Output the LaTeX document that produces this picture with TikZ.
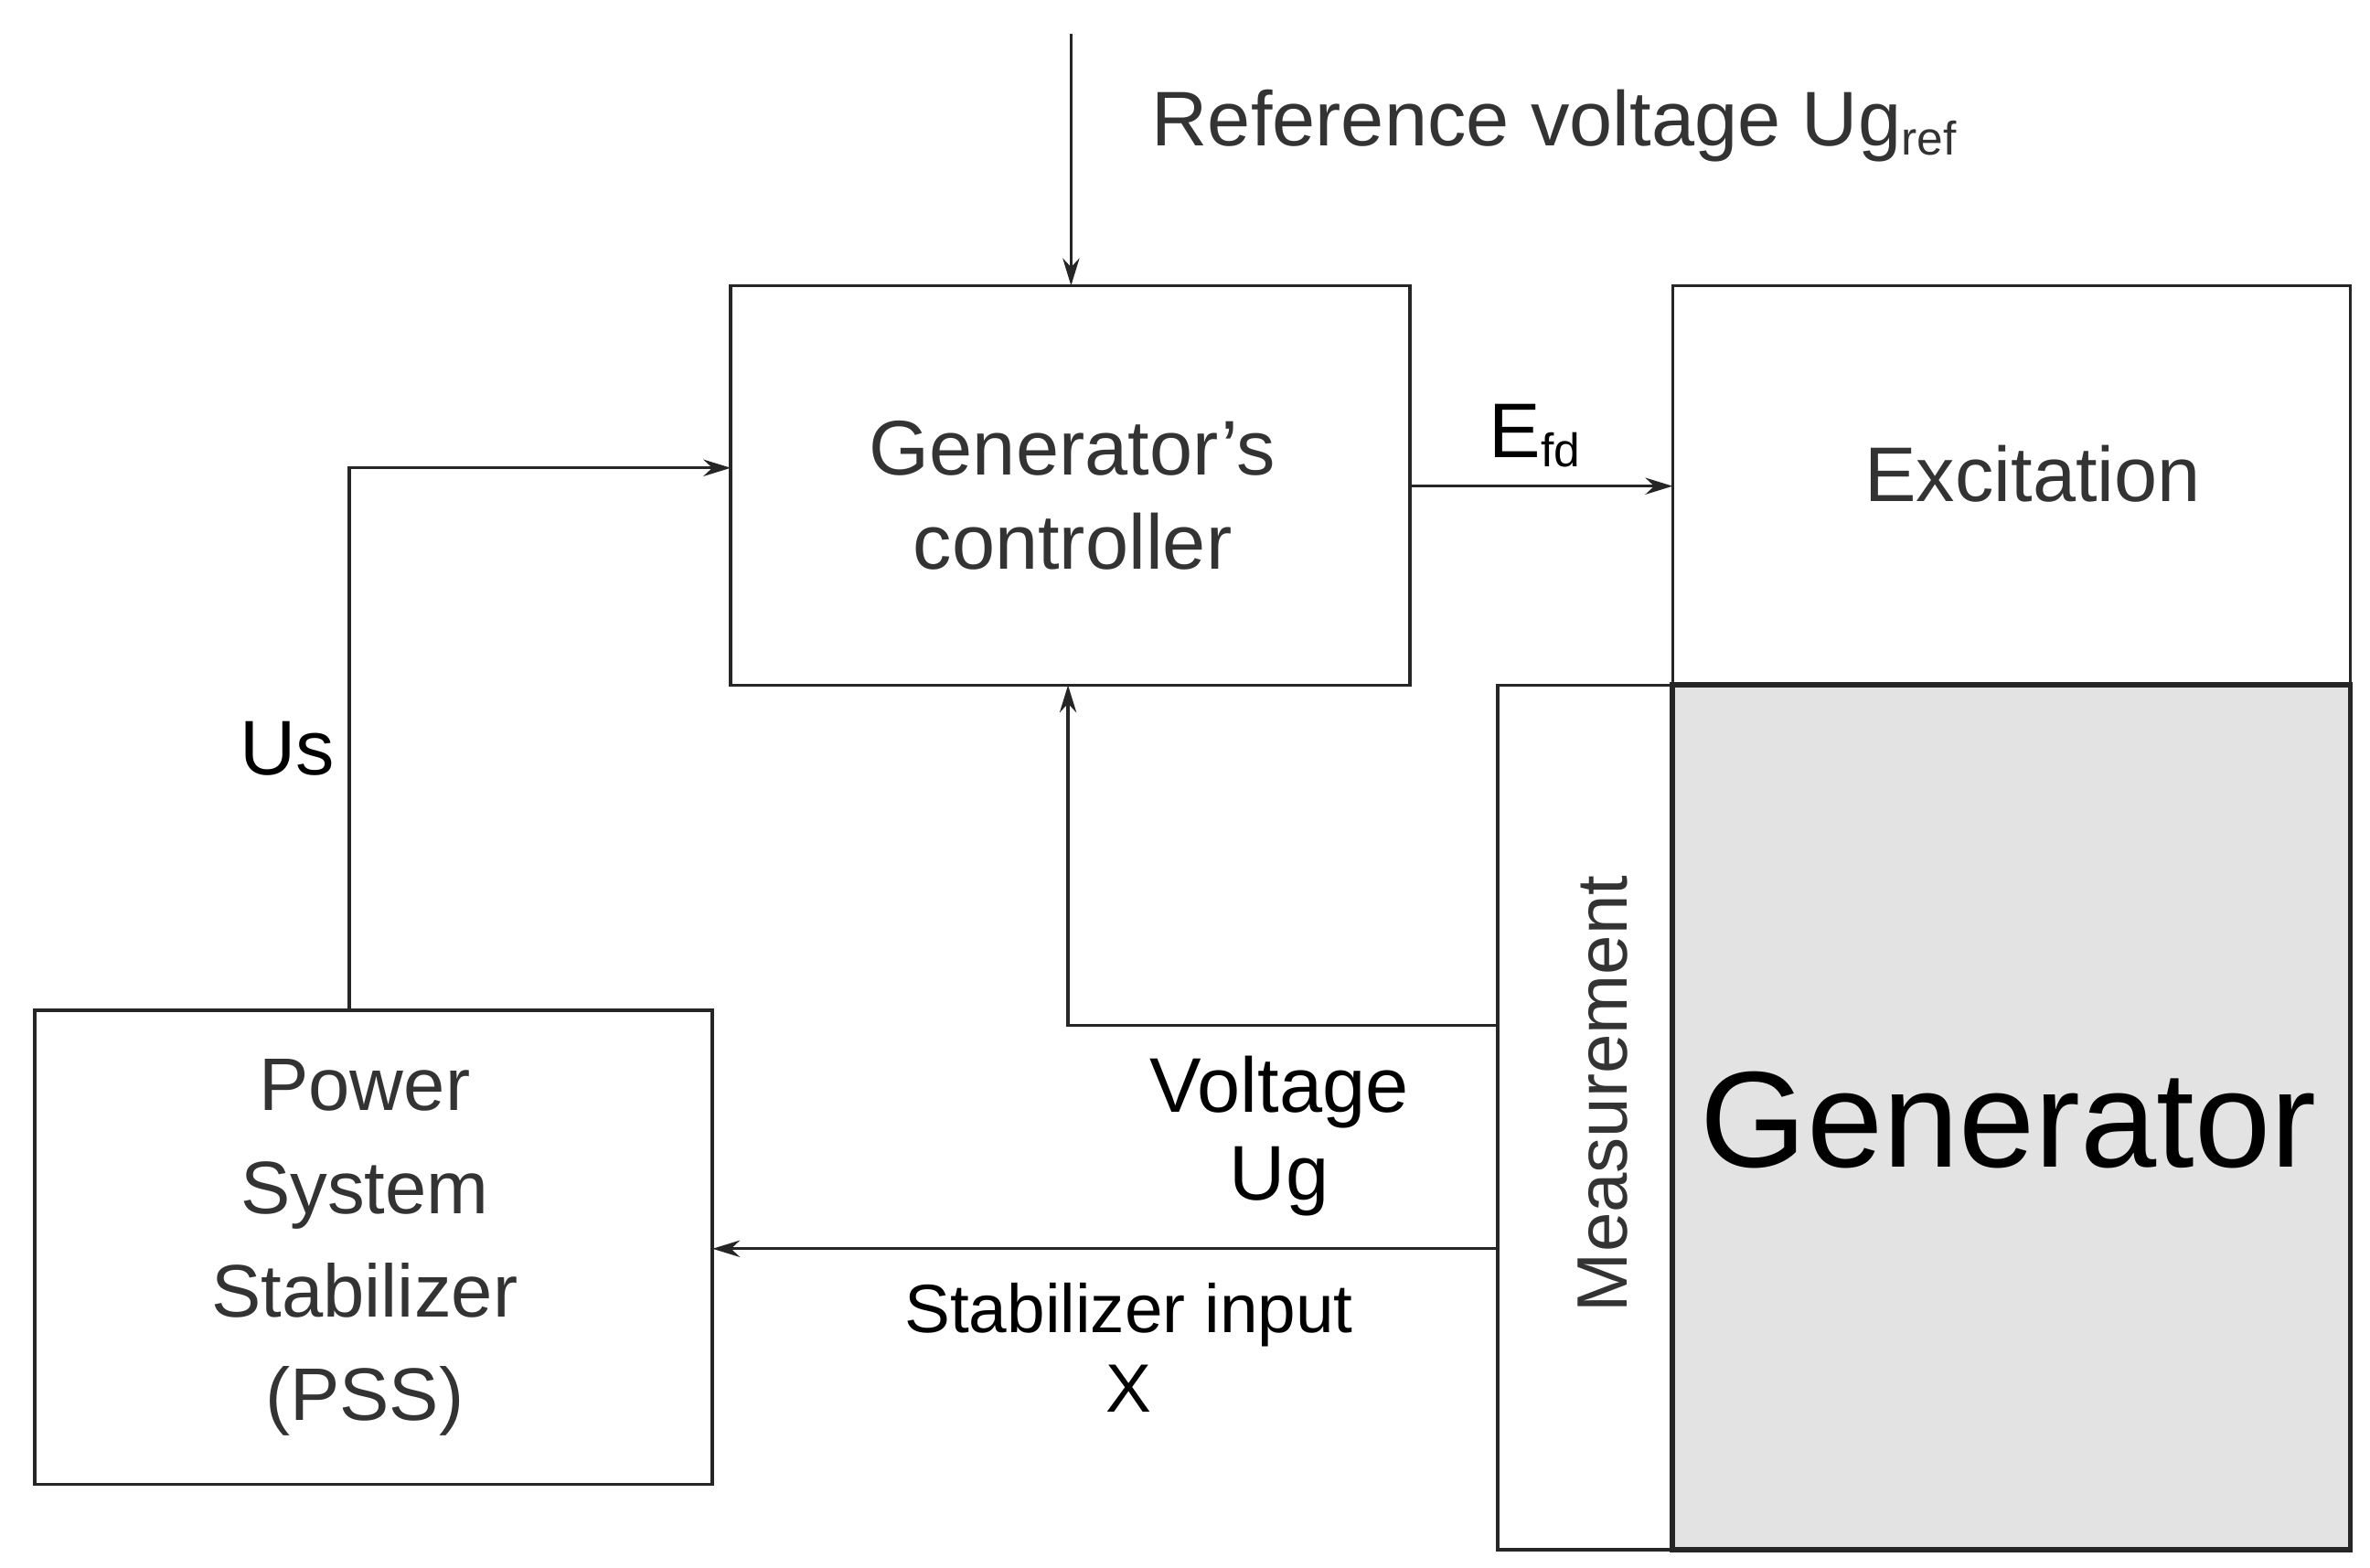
\documentclass[tikz,border=0pt]{standalone}
\usepackage{fontspec}
\setmainfont{Liberation Sans}
\usetikzlibrary{arrows.meta}
\begin{document}
\begin{tikzpicture}[x=1pt,y=-1pt,
  blk/.style={draw=black!85,line width=2.2pt},
  arr/.style={draw=black!85,line width=2pt,-{Stealth[length=18pt,width=11pt]}},
  ln/.style={draw=black!85,line width=2pt},
  txt/.style={font=\fontsize{51}{58}\selectfont,text=black!80,align=center,inner sep=0pt}]
\useasboundingbox (0,0) rectangle (1560,1032);
\node[blk,minimum width=447pt,minimum height=263pt] (ctrl) at (704.5,319.5) {};
\node[txt] (ctrlt) at (706,326) {Generator’s\\[4pt]controller};
\node[blk,minimum width=446pt,minimum height=263pt] (exc) at (1324,319.5) {};
\node[txt] (exct) at (1338,312) {Excitation};
\node[blk,fill=black!11,line width=3.5pt,minimum width=446pt,minimum height=569pt] (gen) at (1324,735.5) {};
\node[txt,font=\fontsize{90}{96}\selectfont,text=black] (gent) at (1322,737) {Generator};
\node[blk,minimum width=115pt,minimum height=569pt] (meas) at (1043.5,735.5) {};
\node[txt,rotate=90,font=\fontsize{47}{52}\selectfont] (meast) at (1055,720) {Measurement};
\node[blk,minimum width=446pt,minimum height=312pt] (pss) at (246,821) {};
\node[txt,font=\fontsize{49}{68}\selectfont] (psst) at (240,821) {Power\\System\\Stabilizer\\(PSS)};
\coordinate (top) at (705,22);
\draw[arr] (top) -- (705,188);
\node[txt,anchor=west] (ref) at (758,83) {Reference voltage Ug\raisebox{-6pt}{\fontsize{31}{33}\selectfont ref}};
\draw[arr] (230,665) -- (230,308) -- (481,308);
\node[txt,text=black] (us) at (189,493) {Us};
\draw[arr] (928,320) -- (1101,320);
\node[txt,text=black,anchor=west] (efd) at (980,287) {E\raisebox{-6pt}{\fontsize{31}{33}\selectfont fd}};
\draw[arr] (986,675) -- (703,675) -- (703,451);
\node[txt,text=black] (vg) at (842,748) {Voltage\\Ug};
\draw[arr] (986,822) -- (469,822);
\node[txt,text=black,font=\fontsize{45}{52}\selectfont] (si) at (743,887) {Stabilizer input\\X};
\end{tikzpicture}
\end{document}
